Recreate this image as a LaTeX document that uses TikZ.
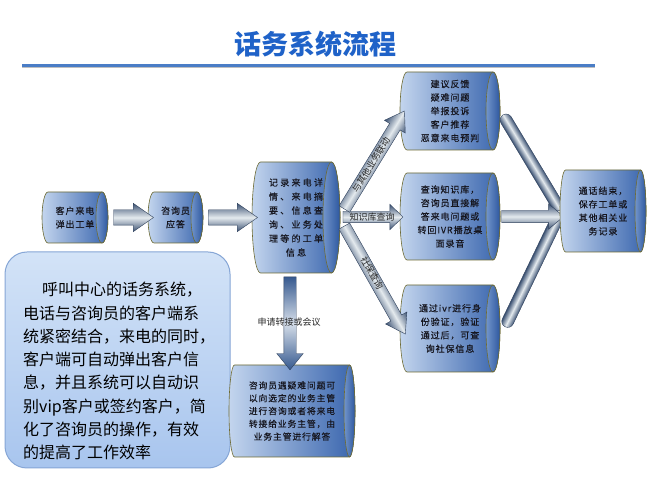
\documentclass[tikz,border=0pt]{standalone}
\usepackage{fontspec}
\setmainfont{Noto Sans CJK SC}
\newfontfamily\cjk{Noto Sans CJK SC}
\newfontfamily\cjksp[LetterSpace=10,FakeBold=0.3]{Noto Sans CJK SC}
\newfontfamily\cjkwide[LetterSpace=25,FakeBold=0.3]{Noto Sans CJK SC}
\usetikzlibrary{shapes.arrows,calc}
\definecolor{cylL}{HTML}{C3D5EE}
\definecolor{cylR}{HTML}{3864AD}
\definecolor{faceL}{HTML}{7295CB}
\definecolor{faceR}{HTML}{2D579F}
\definecolor{cylEdge}{HTML}{6E6B34}
\definecolor{txt}{HTML}{16161F}
\definecolor{arrD}{HTML}{3C5273}
\definecolor{arrL}{HTML}{E4EAEE}
\definecolor{arrEdge}{HTML}{2F415C}
\definecolor{downD}{HTML}{36598F}
\definecolor{downL}{HTML}{D5DEE9}
\definecolor{titleblue}{HTML}{1F62C8}
\definecolor{lineblue}{HTML}{4A7DC6}
\definecolor{boxTop}{HTML}{D3E3F7}
\definecolor{boxBot}{HTML}{A8C5EE}
\definecolor{boxEdge}{HTML}{86A6D6}
\tikzset{
  cylbody/.style={left color=cylL, right color=cylR, draw=cylEdge, line width=0.6pt},
  cylface/.style={left color=faceL, right color=faceR, draw=cylEdge, line width=0.6pt},
  cyltext/.style={align=center, text=txt, inner sep=0pt},
  blockarr/.style={single arrow, draw=arrEdge, line width=0.4pt, top color=arrD, bottom color=arrD, middle color=arrL, inner sep=0pt, minimum width=1pt},
  barstyle/.style={rectangle, rounded corners=6pt, draw=arrEdge, line width=0.4pt, top color=arrD, bottom color=arrD, middle color=arrL, inner sep=0pt, minimum height=12pt},
  lbl/.style={font=\cjk\fontsize{9}{9}\selectfont, text=black!85, inner sep=0pt},
}
\newcommand\cylnode[8]{% name, cx, cy, w, h, rx, font, text
  \path[cylbody] ({#2-#4/2+#6},{#3+#5/2}) -- ({#2+#4/2-#6},{#3+#5/2})
     arc[start angle=90,end angle=-90,x radius=#6,y radius=#5/2]
     -- ({#2-#4/2+#6},{#3-#5/2})
     arc[start angle=270,end angle=90,x radius=#6,y radius=#5/2] -- cycle;
  \path[cylface] ({#2+#4/2-#6},#3) ellipse[x radius=#6, y radius=#5/2];
  \node[cyltext, font=#7, minimum width=#4pt, minimum height=#5pt] (#1) at (#2,#3) {#8};
}
\newcommand\nf{\cjksp\fontsize{9}{13.5}\selectfont}
\begin{document}
\begin{tikzpicture}[x=1pt,y=1pt]
\useasboundingbox[fill=white] (0,0) rectangle (650,484);
% title
\node[font=\cjk\bfseries\fontsize{27}{27}\selectfont, text=titleblue] (title) at (315,439.5) {话务系统流程};
\draw[black!25, line width=1pt] (22,416) -- (595,416);
\draw[lineblue, line width=2.5pt] (22,418.5) -- (595,418.5);
% description box
\path[top color=boxTop, bottom color=boxBot, draw=boxEdge, line width=1pt, rounded corners=22pt] (5,16) rectangle (230,232);
\node[anchor=north west, align=left, inner sep=0pt, font=\cjk\fontsize{16}{23.3}\selectfont] (desc) at (23,202)
 {\hspace*{19pt}呼叫中心的话务系统，\\电话与咨询员的客户端系\\统紧密结合，来电的同时，\\客户端可自动弹出客户信\\息，并且系统可以自动识\\别vip客户或签约客户，简\\化了咨询员的操作，有效\\的提高了工作效率};
% cylinders
\cylnode{n1}{75}{266.5}{66}{51}{6}{\nf}{客户来电\\弹出工单}
\cylnode{n2}{175.5}{266.5}{55}{51}{6}{\nf}{咨询员\\应答}
\cylnode{n3}{296}{266.5}{88}{111}{8.5}{\cjkwide\fontsize{9}{14}\selectfont}{记录来电详\\情、来电摘\\要、信息查\\询、业务处\\理等的工单\\信息}
\cylnode{n4}{450}{373}{100}{78}{7}{\nf}{建议反馈\\疑难问题\\举报投诉\\客户推荐\\恶意来电预判}
\cylnode{n5}{450}{267.5}{100}{87}{7}{\nf}{查询知识库，\\咨询员直接解\\答来电问题或\\转回IVR播放桌\\面录音}
\cylnode{n6}{450}{155.5}{100}{87}{7}{\nf}{通过ivr进行身\\份验证，验证\\通过后，可查\\询社保信息}
\cylnode{n8}{292}{73}{126}{92}{5.5}{\cjksp\fontsize{8.8}{12.8}\selectfont}{咨询员遇疑难问题可\\以向选定的业务主管\\进行咨询或者将来电\\转接给业务主管，由\\业务主管进行解答}
% horizontal block arrows
\node[blockarr, inner ysep=7.5pt, single arrow head extend=6.5pt, single arrow tip angle=70, minimum height=40pt] (a12) at ($(n1.east)!0.5!(n2.west)$) {};
\node[blockarr, inner ysep=7.5pt, single arrow head extend=6.5pt, single arrow tip angle=70, minimum height=49pt] (a23) at ($(n2.east)!0.5!(n3.west)$) {};
\node[blockarr, inner ysep=5.5pt, single arrow head extend=7pt, single arrow tip angle=88, minimum height=60pt] (a35) at ($(n3.east)!0.5!(n5.west)$) {};
% diagonal block arrows from n3
\coordinate (s34) at ($(n3.east)+(2,4.5)$);
\coordinate (e34) at ($(n4.west)+(2,-4)$);
\coordinate (s36) at ($(n3.east)+(2,-4.5)$);
\coordinate (e36) at ($(n6.west)+(3,-1.5)$);
\coordinate (s38) at ($(n3.south)+(-6,0)$);
\coordinate (e38) at ($(n8.north)+(-2,-1)$);
\begin{scope}[transform canvas={shift={($(s34)!.5!(e34)$)}, rotate=58.5}]
  \node[blockarr, inner ysep=6pt, single arrow head extend=6pt, single arrow tip angle=67, minimum height=115pt] (a34) at (0,0) {};
\end{scope}
\begin{scope}[transform canvas={shift={($(s36)!.5!(e36)$)}, rotate=-60.5}]
  \node[blockarr, inner ysep=6pt, single arrow head extend=6pt, single arrow tip angle=67, minimum height=124pt] (a36) at (0,0) {};
\end{scope}
\begin{scope}[transform canvas={shift={($(s38)!.5!(e38)$)}, rotate=-90}]
  \node[single arrow, draw=arrEdge, line width=0.4pt, left color=downD, right color=downD, middle color=downL, inner sep=0pt, inner ysep=6pt, single arrow head extend=7pt, single arrow tip angle=78, minimum height=93pt] (a38) at (0,0) {};
\end{scope}
% labels
\node[lbl, rotate=58.5] (l34) at (371,319) {与其他业务联动};
\node[lbl] (l35) at (372,267) {知识库查询};
\node[lbl, rotate=-60.5] (l36) at (372,211) {社保查询};
\node[lbl] (l38) at (289,162) {申请转接或会议};
% converging bars
\coordinate (s47) at ($(n4.east)+(3,-4)$);
\coordinate (e47) at (560,274);
\coordinate (s67) at ($(n6.east)+(5,1.5)$);
\coordinate (e67) at (557.6,266.4);
\begin{scope}[transform canvas={shift={($(s47)!.5!(e47)$)}, rotate=-59}]
  \node[barstyle, minimum width=111pt] (b47) at (0,0) {};
\end{scope}
\begin{scope}[transform canvas={shift={($(s67)!.5!(e67)$)}, rotate=64.3}]
  \node[barstyle, minimum width=121pt] (b67) at (0,0) {};
\end{scope}
\node[blockarr, inner ysep=6pt, single arrow head extend=6.5pt, single arrow tip angle=80, minimum height=62pt] (a57) at (529,267.5) {};
% final node
\cylnode{n7}{603}{273}{86}{82}{5.5}{\nf}{通话结束，\\保存工单或\\其他相关业\\务记录}
\end{tikzpicture}
\end{document}
